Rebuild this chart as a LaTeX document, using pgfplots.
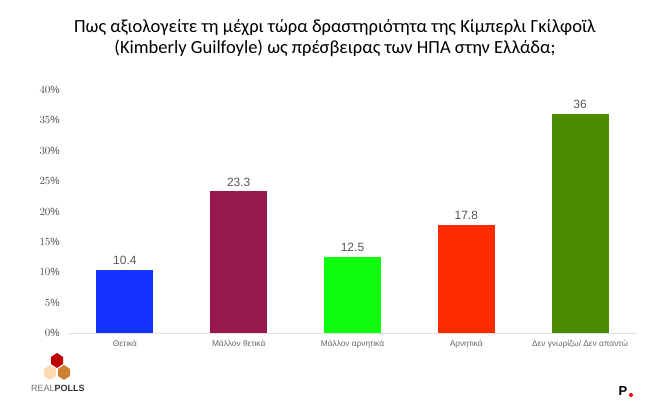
\documentclass[border=0pt]{standalone}
\usepackage{pgfplots}
\pgfplotsset{compat=1.18}
\usepackage{fontspec}
\setmainfont{Liberation Sans}
\newfontfamily\titlefont{Carlito}
\definecolor{cBlue}{HTML}{1433FF}
\definecolor{cMaroon}{HTML}{97174F}
\definecolor{cGreen}{HTML}{0DFF0D}
\definecolor{cRed}{HTML}{FF2A00}
\definecolor{cDark}{HTML}{4D8C00}
\definecolor{txtgray}{HTML}{555555}
\begin{document}
\begin{tikzpicture}[x=1pt,y=1pt]
\path[use as bounding box] (0,0) rectangle (648,403);
\node[font=\titlefont\fontsize{18.5}{21.5}\selectfont, align=center, text=black] at (335,365) {Πως αξιολογείτε τη μέχρι τώρα δραστηριότητα της Κίμπερλι Γκίλφοϊλ\\(Kimberly Guilfoyle) ως πρέσβειρας των ΗΠΑ στην Ελλάδα;};
\begin{axis}[
  at={(68pt,70pt)}, anchor=south west,
  width=569pt, height=243pt, scale only axis,
  xmin=-0.5, xmax=4.5, ymin=0, ymax=40,
  ybar, bar width=57pt, bar shift=0pt,
  axis x line*=bottom, axis y line*=left,
  x axis line style={draw=black!12, line width=0.8pt},
  y axis line style={draw=none},
  major tick length=0pt,
  xtick={0,1,2,3,4},
  xticklabels={Θετικά, Μάλλον θετικά, Μάλλον αρνητικά, Αρνητικά, Δεν γνωρίζω/ Δεν απαντώ},
  xticklabel style={font=\fontsize{8.3}{10}\selectfont, text=black!60, inner sep=0pt, yshift=-7pt},
  ytick={0,5,...,40},
  yticklabel={\pgfmathprintnumber{\tick}\%},
  yticklabel style={font=\fontsize{10.5}{12}\selectfont, text=black!70, inner sep=0pt, xshift=-8pt},
  nodes near coords={\pgfkeys{/pgf/number format/assume math mode=true}\pgfmathprintnumber{\pgfplotspointmeta}},
  every node near coord/.append style={font=\fontsize{12}{14}\selectfont, text=txtgray, inner sep=0pt, yshift=5pt},
  clip=false,
]
\addplot[fill=cBlue, draw=none] coordinates {(0,10.4)};
\addplot[fill=cMaroon, draw=none] coordinates {(1,23.3)};
\addplot[fill=cGreen, draw=none] coordinates {(2,12.5)};
\addplot[fill=cRed, draw=none] coordinates {(3,17.8)};
\addplot[fill=cDark, draw=none] coordinates {(4,36)};
\end{axis}
% RealPolls logo
\fill[red!75!black] (57,50) -- (63,46) -- (63,39) -- (57,35) -- (51,39) -- (51,46) -- cycle;
\fill[orange!30!white] (50,38) -- (56,34) -- (56,27) -- (50,23) -- (44,27) -- (44,34) -- cycle;
\fill[brown!80!orange] (64,38) -- (70,34) -- (70,27) -- (64,23) -- (58,27) -- (58,34) -- cycle;
\node[anchor=west, inner sep=0pt, font=\fontsize{9}{10}\selectfont] at (31,15) {\textcolor{black!55}{REAL}\textcolor{black!80}{\textbf{POLLS}}};
% P. logo
\node[anchor=center, inner sep=0pt, font=\bfseries\fontsize{13}{14}\selectfont] at (623,12) {P};
\fill[red] (631,8) circle (2);
\end{tikzpicture}
\end{document}
